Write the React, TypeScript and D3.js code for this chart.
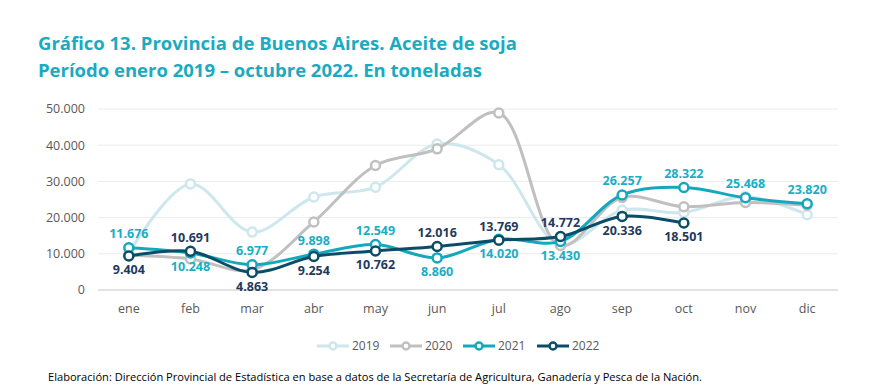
import React from 'react'
import * as d3 from 'd3'

const months = ['ene', 'feb', 'mar', 'abr', 'may', 'jun', 'jul', 'ago', 'sep', 'oct', 'nov', 'dic']
const yTicks = [0, 10000, 20000, 30000, 40000, 50000]

const v2019 = [10200, 29300, 16000, 25700, 28400, 40300, 34600, 12600, 22000, 21400, 25800, 20800]
const v2020 = [9600, 8600, 5600, 18800, 34400, 39000, 48900, 12300, 25600, 23000, 24200, 23400]
const v2021 = [11676, 10248, 6977, 9898, 12549, 8860, 14020, 13430, 26257, 28322, 25468, 23820]
const v2022 = [9404, 10691, 4863, 9254, 10762, 12016, 13769, 14772, 20336, 18501]

// label placement: 1 = above marker, -1 = below
const pos2021 = [1, -1, 1, 1, 1, -1, -1, -1, 1, 1, 1, 1]
const pos2022 = [-1, 1, -1, -1, -1, 1, 1, 1, -1, -1]

const series = [
  { name: '2019', values: v2019, color: '#cde7ec', labels: null, labelColor: '' },
  { name: '2020', values: v2020, color: '#c0c0c0', labels: null, labelColor: '' },
  { name: '2021', values: v2021, color: '#14a8bd', labels: pos2021, labelColor: '#1aaec3' },
  { name: '2022', values: v2022, color: '#0b4d68', labels: pos2022, labelColor: '#1f3a5e' },
]

const fmt = (v: number) => d3.format(',')(v).replace(/,/g, '.')

export default function App() {
  const width = 887
  const height = 391
  const left = 98
  const right = 838
  const top = 109
  const bottom = 290

  const x = d3.scaleBand().domain(months).range([left, right])
  const y = d3.scaleLinear().domain([0, 50000]).range([bottom, top])
  const cx = (i: number) => (x(months[i]) as number) + x.bandwidth() / 2

  const line = d3.line<number>()
    .x((d, i) => cx(i))
    .y(d => y(d))
    .curve(d3.curveCatmullRom.alpha(0.5))

  const legendX = [317, 390, 463, 537]

  return (
    <svg width={width} height={height} style={{ position: 'absolute', left: 0, top: 0, background: '#fff' }}
      fontFamily="'Open Sans', sans-serif">
      <text x={38} y={50} fontSize={18.5} fontWeight={700} fill="#1aabc0">Gráfico 13. Provincia de Buenos Aires. Aceite de soja</text>
      <text x={38} y={77} fontSize={18.5} fontWeight={700} fill="#1aabc0">Período enero 2019 – octubre 2022. En toneladas</text>

      {yTicks.map(t => (
        <g key={t}>
          <line x1={left} x2={right} y1={y(t)} y2={y(t)} stroke={t === 0 ? '#d9d9d9' : '#ececec'} strokeWidth={t === 0 ? 1.5 : 1} />
          <text x={85} y={y(t)} dy="0.35em" textAnchor="end" fontSize={12.5} fill="#595959">{fmt(t)}</text>
        </g>
      ))}
      {months.map(m => (
        <text key={m} x={(x(m) as number) + x.bandwidth() / 2} y={313} textAnchor="middle" fontSize={12.5} fill="#595959">{m}</text>
      ))}

      {series.map(s => (
        <g key={s.name}>
          <path d={line(s.values) as string} fill="none" stroke={s.color} strokeWidth={3} />
          {s.values.map((v, i) => (
            <circle key={i} cx={cx(i)} cy={y(v)} r={4.5} fill="#fff" stroke={s.color} strokeWidth={2.5} />
          ))}
        </g>
      ))}
      {series.filter(s => s.labels).map(s => (
        <g key={s.name + 'l'}>
          {s.values.map((v, i) => (
            <text key={i} x={cx(i)} y={y(v) - (s.labels as number[])[i] * 14} dy="0.35em" textAnchor="middle"
              fontSize={12.5} fontWeight={700} fill={s.labelColor}>{fmt(v)}</text>
          ))}
        </g>
      ))}

      {series.map((s, i) => (
        <g key={s.name + 'lg'}>
          <line x1={legendX[i]} x2={legendX[i] + 32} y1={346} y2={346} stroke={s.color} strokeWidth={3} />
          <circle cx={legendX[i] + 16} cy={346} r={3.5} fill="#fff" stroke={s.color} strokeWidth={2.5} />
          <text x={legendX[i] + 35} y={346} dy="0.35em" fontSize={12} fill="#595959">{s.name}</text>
        </g>
      ))}

      <text x={48} y={377} dy="0.35em" fontSize={11.1} fill="#000">Elaboración: Dirección Provincial de Estadística en base a datos de la Secretaría de Agricultura, Ganadería y Pesca de la Nación.</text>
    </svg>
  )
}
